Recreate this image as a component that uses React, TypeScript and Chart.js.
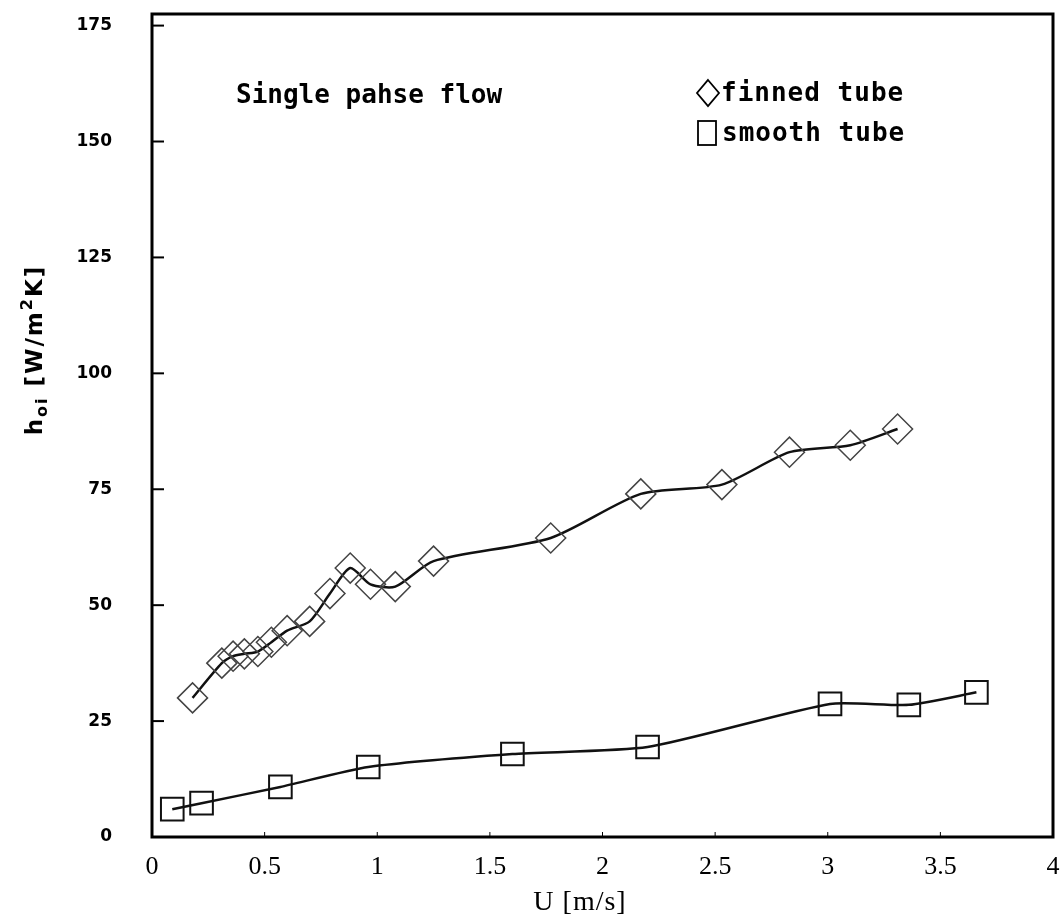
import React, { useEffect, useRef } from 'react';
import { Chart, registerables } from 'chart.js';

Chart.register(...registerables);

// Finned tube (diamonds)
const finnedU = [0.18, 0.31, 0.36, 0.41, 0.47, 0.53, 0.6, 0.7, 0.79, 0.88, 0.97, 1.08, 1.25, 1.77, 2.17, 2.53, 2.83, 3.1, 3.31];
const finnedH = [30, 37.5, 39, 39.5, 40, 42, 44.5, 46.5, 52.5, 58, 54.5, 54, 59.5, 64.5, 74, 76, 83, 84.5, 88];

// Smooth tube (squares)
const smoothU = [0.09, 0.22, 0.57, 0.96, 1.6, 2.2, 3.01, 3.36, 3.66];
const smoothH = [6, 7.3, 10.8, 15.1, 17.9, 19.4, 28.7, 28.5, 31.2];

const xTicks = [0, 0.5, 1, 1.5, 2, 2.5, 3, 3.5, 4];
const yTicks = [0, 25, 50, 75, 100, 125, 150, 175];

const noteText = 'Single pahse flow';
const seriesLabels = ['finned tube', 'smooth tube'];
const xTitle = 'U [m/s]';

export default function App() {
  const ref = useRef<HTMLCanvasElement>(null);

  useEffect(() => {
    document.body.style.margin = '0';
    const canvas = ref.current!;

    const overlay = {
      id: 'overlay',
      afterDraw(chart: any) {
        const ctx = chart.ctx as any;
        const { left, right, top, bottom } = chart.chartArea;
        const xs = chart.scales.x;
        const ys = chart.scales.y;
        ctx.save();
        ctx.strokeStyle = '#000';
        ctx.fillStyle = '#000';
        // frame
        ctx.lineWidth = 3;
        ctx.strokeRect(left, top, right - left, bottom - top);
        // inward ticks
        ctx.lineWidth = 2;
        yTicks.forEach((v) => {
          const py = ys.getPixelForValue(v);
          ctx.beginPath();
          ctx.moveTo(left, py);
          ctx.lineTo(left + 12, py);
          ctx.stroke();
        });
        ctx.lineWidth = 1;
        xTicks.forEach((v) => {
          const px = xs.getPixelForValue(v);
          ctx.beginPath();
          ctx.moveTo(px, bottom);
          ctx.lineTo(px, bottom - 5);
          ctx.stroke();
        });

        // note text
        ctx.font = 'bold 26px "DejaVu Sans Mono"';
        ctx.textBaseline = 'alphabetic';
        ctx.textAlign = 'left';
        ctx.fillText(noteText, 236, 103);

        // legend
        ctx.lineWidth = 1.8;
        ctx.beginPath();
        ctx.moveTo(708, 80);
        ctx.lineTo(719, 93);
        ctx.lineTo(708, 106);
        ctx.lineTo(697, 93);
        ctx.closePath();
        ctx.stroke();
        ctx.strokeRect(698, 121, 18, 24);
        ctx.letterSpacing = '1px';
        ctx.fillText(seriesLabels[0], 721, 101);
        ctx.fillText(seriesLabels[1], 722, 141);

        // x title
        ctx.letterSpacing = '1px';
        ctx.font = '28px "Liberation Serif"';
        ctx.textAlign = 'center';
        ctx.fillText(xTitle, 580, 910);

        // y title (rotated)
        ctx.translate(42, 350);
        ctx.rotate(-Math.PI / 2);
        ctx.textAlign = 'left';
        ctx.letterSpacing = '2px';
        const big = 'bold 23px "DejaVu Sans"';
        const small = 'bold 16px "DejaVu Sans"';
        const parts: [string, string, number][] = [
          ['h', big, 0],
          ['oi', small, 5],
          [' [W/m', big, 0],
          ['2', small, -10],
          ['K]', big, 0],
        ];
        let total = 0;
        parts.forEach(([t, f]) => {
          ctx.font = f;
          total += ctx.measureText(t).width;
        });
        let cx = -total / 2;
        parts.forEach(([t, f, dy]) => {
          ctx.font = f;
          ctx.fillText(t, cx, dy);
          cx += ctx.measureText(t).width;
        });
        ctx.restore();
      },
    };

    const chart = new Chart(canvas, {
      type: 'scatter',
      data: {
        datasets: [
          {
            label: seriesLabels[0],
            data: finnedU.map((u, i) => ({ x: u, y: finnedH[i] })),
            showLine: true,
            borderColor: '#111',
            borderWidth: 2.5,
            tension: 0.25,
            pointStyle: 'rectRot',
            pointRadius: 15,
            pointBorderWidth: 1.5,
            pointBorderColor: '#444',
            pointBackgroundColor: 'rgba(0,0,0,0)',
          },
          {
            label: seriesLabels[1],
            data: smoothU.map((u, i) => ({ x: u, y: smoothH[i] })),
            showLine: true,
            borderColor: '#111',
            borderWidth: 2.5,
            tension: 0.2,
            pointStyle: 'rect',
            pointRadius: 16,
            pointBorderWidth: 2,
            pointBorderColor: '#111',
            pointBackgroundColor: 'rgba(0,0,0,0)',
          },
        ],
      },
      options: {
        responsive: false,
        animation: false,
        layout: { autoPadding: false, padding: { top: 14, right: 8, left: 0, bottom: 0 } },
        plugins: {
          legend: { display: false },
          tooltip: { enabled: false },
          title: { display: false },
        },
        scales: {
          x: {
            type: 'linear',
            min: 0,
            max: 4,
            afterBuildTicks: (axis: any) => {
              axis.ticks = xTicks.map((v) => ({ value: v }));
            },
            afterFit: (scale: any) => {
              scale.height = 87;
              scale.paddingLeft = 0;
              scale.paddingRight = 0;
              scale.paddingTop = 0;
              scale.paddingBottom = 0;
            },
            grid: { display: false, drawTicks: false },
            border: { display: false },
            ticks: {
              padding: 15,
              color: '#000',
              font: { family: '"Liberation Serif"', size: 26 },
              callback: (v: any) => String(v),
            },
          },
          y: {
            type: 'linear',
            min: 0,
            max: 177.5,
            afterBuildTicks: (axis: any) => {
              axis.ticks = yTicks.map((v) => ({ value: v }));
            },
            afterFit: (scale: any) => {
              scale.width = 152;
              scale.paddingTop = 0;
              scale.paddingBottom = 0;
              scale.paddingLeft = 0;
              scale.paddingRight = 0;
            },
            grid: { display: false, drawTicks: false },
            border: { display: false },
            ticks: {
              padding: 40,
              color: '#000',
              font: { family: '"DejaVu Sans"', size: 17, weight: 'bold' },
              callback: (v: any) => String(v),
            },
          },
        },
      },
      plugins: [overlay],
    });
    return () => chart.destroy();
  }, []);

  return (
    <div style={{ width: 1061, height: 924, background: '#fff' }}>
      <canvas ref={ref} width={1061} height={924} style={{ display: 'block' }} />
    </div>
  );
}
